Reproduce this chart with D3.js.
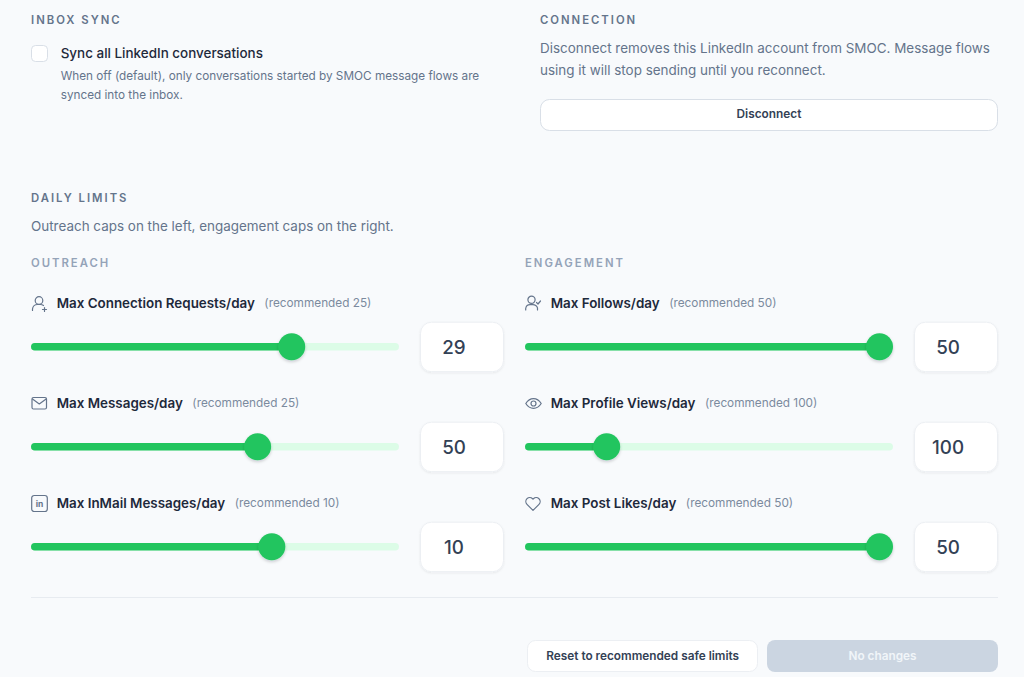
<!DOCTYPE html>
<html>
<head>
<meta charset="utf-8">
<script src="https://cdn.jsdelivr.net/npm/d3@7"></script>
<style>
  html, body { margin: 0; padding: 0; background: #f8fafc; overflow: hidden; }
  text { font-family: Inter, "Noto Sans", sans-serif; }
</style>
</head>
<body>
<div id="chart"></div>
<script>
// values
const outreachLabels = ["Max Connection Requests/day", "Max Messages/day", "Max InMail Messages/day"];
const outreachRecommended = [25, 25, 10];
const outreachValues = [29, 50, 10];
const outreachMax = [40, 80, 15];
const outreachIcons = ["userPlus", "mail", "linkedin"];

const engagementLabels = ["Max Follows/day", "Max Profile Views/day", "Max Post Likes/day"];
const engagementRecommended = [50, 100, 50];
const engagementValues = [50, 100, 50];
const engagementMax = [50, 500, 50];
const engagementIcons = ["userCheck", "eye", "heart"];

const width = 1024;
const height = 677;

const svg = d3.select("#chart")
  .append("svg")
  .attr("width", width)
  .attr("height", height)
  .style("display", "block");

const defs = svg.append("defs");
const thumbShadow = defs.append("filter").attr("id", "thumbShadow")
  .attr("x", "-40%").attr("y", "-40%").attr("width", "180%").attr("height", "180%");
thumbShadow.append("feDropShadow").attr("dx", 0).attr("dy", 1.5).attr("stdDeviation", 1.5)
  .attr("flood-color", "#0f172a").attr("flood-opacity", 0.2);
const boxShadow = defs.append("filter").attr("id", "boxShadow")
  .attr("x", "-10%").attr("y", "-10%").attr("width", "120%").attr("height", "130%");
boxShadow.append("feDropShadow").attr("dx", 0).attr("dy", 1).attr("stdDeviation", 1)
  .attr("flood-color", "#0f172a").attr("flood-opacity", 0.07);

function addText(x, y, str, size, weight, fill, spacing) {
  return svg.append("text")
    .attr("x", x)
    .attr("y", y)
    .attr("font-size", size)
    .attr("font-weight", weight)
    .attr("fill", fill)
    .attr("letter-spacing", spacing || 0)
    .text(str);
}

function addBox(x, y, w, h, r, fill, stroke, shadow) {
  const box = svg.append("rect")
    .attr("x", x)
    .attr("y", y)
    .attr("width", w)
    .attr("height", h)
    .attr("rx", r)
    .attr("fill", fill);
  if (stroke) box.attr("stroke", stroke).attr("stroke-width", 1);
  if (shadow) box.attr("filter", "url(#boxShadow)");
  return box;
}

// top sections
addText(31, 24, "INBOX SYNC", 11.3, 600, "#64748b", 2);
addBox(31.5, 45.5, 16, 16, 4, "#ffffff", "#d9dfe7");
addText(60.7, 58, "Sync all LinkedIn conversations", 13.45, 500, "#1e293b");
addText(60.7, 80, "When off (default), only conversations started by SMOC message flows are", 11.75, 400, "#64748b");
addText(60.7, 99, "synced into the inbox.", 11.75, 400, "#64748b");

addText(540, 24, "CONNECTION", 11.3, 600, "#64748b", 2);
addText(540, 53, "Disconnect removes this LinkedIn account from SMOC. Message flows", 13.45, 400, "#64748b");
addText(540, 75, "using it will stop sending until you reconnect.", 13.45, 400, "#64748b");
addBox(540.5, 99.5, 457, 31, 9, "#ffffff", "#d9dfe7");
addText(769, 118, "Disconnect", 11.85, 600, "#334155").attr("text-anchor", "middle");

addText(31, 202, "DAILY LIMITS", 11.3, 600, "#64748b", 2);
addText(31, 231, "Outreach caps on the left, engagement caps on the right.", 13.45, 400, "#64748b");

const icons = {
  userPlus: (g) => {
    g.append("circle").attr("cx", 8).attr("cy", 5.5).attr("r", 3.8);
    g.append("path").attr("d", "M1.5 15.5v-1.5a5 5 0 0 1 5-4.5h3a5 5 0 0 1 3 1");
    g.append("path").attr("d", "M13.5 12.5v4M11.5 14.5h4");
  },
  mail: (g) => {
    g.append("rect").attr("x", 1).attr("y", 2.5).attr("width", 14.5).attr("height", 11.5).attr("rx", 1.5);
    g.append("path").attr("d", "M1.5 4l6.8 5 6.8-5");
  },
  linkedin: (g) => {
    g.append("rect").attr("x", 0.7).attr("y", 0.5).attr("width", 15.6).attr("height", 16).attr("rx", 2.5);
    g.append("text").attr("x", 8.5).attr("y", 11.5).attr("text-anchor", "middle")
      .attr("font-size", 8.5).attr("font-weight", 700).attr("fill", "#64748b").attr("stroke", "none").text("in");
  },
  userCheck: (g) => {
    g.append("circle").attr("cx", 6.5).attr("cy", 4.8).attr("r", 3.6);
    g.append("path").attr("d", "M0.7 15v-1.5a4.5 4.5 0 0 1 4.5-3.8h2.6a5 5 0 0 1 4.7 3.2v2");
    g.append("path").attr("d", "M11.5 7.5l1.5 1.5 2.5-3");
  },
  eye: (g) => {
    g.append("path").attr("d", "M0.8 8.5c4-6.5 11.4-6.5 15.4 0c-4 6.5-11.4 6.5-15.4 0z");
    g.append("circle").attr("cx", 8.5).attr("cy", 8.5).attr("r", 2.5);
  },
  heart: (g) => {
    g.append("path").attr("d", "M8 15.3L2 9.3a4 4 0 0 1 0-5.6a4 4 0 0 1 5.6 0l0.4 0.5l0.4-0.5a4 4 0 0 1 5.6 0a4 4 0 0 1 0 5.6z");
  },
};

// one column of sliders, handle centres come from the scale
function drawColumn(cfg) {
  addText(cfg.x, 267, cfg.title, 11.3, 600, "#94a3b8", 2);

  const rowY = d3.scalePoint().domain(d3.range(cfg.labels.length)).range([346.7, 546.7]);

  cfg.labels.forEach((label, i) => {
    const y = rowY(i);
    const xScale = d3.scaleLinear()
      .domain([0, cfg.max[i]])
      .range([cfg.x + 13.5, cfg.x + 368 - 13.5]);
    const thumbX = xScale(cfg.values[i]);

    const iconG = svg.append("g")
      .attr("transform", `translate(${cfg.x},${y - 51.7})`)
      .attr("fill", "none")
      .attr("stroke", "#64748b")
      .attr("stroke-width", 1.2)
      .attr("stroke-linecap", "round")
      .attr("stroke-linejoin", "round");
    icons[cfg.icons[i]](iconG);

    const labelText = addText(cfg.x + 25.7, y - 38.7, label, 13.4, 600, "#1e293b");
    const labelW = labelText.node().getComputedTextLength();
    addText(cfg.x + 25.7 + labelW + 9.5, y - 40.2, `(recommended ${cfg.recommended[i]})`, 11.8, 400, "#7b8a9e");

    svg.append("rect")
      .attr("x", cfg.x).attr("y", y - 3.8)
      .attr("width", 368).attr("height", 7.6).attr("rx", 3.8)
      .attr("fill", "#dcfce7");
    svg.append("rect")
      .attr("x", cfg.x).attr("y", y - 3.8)
      .attr("width", thumbX - cfg.x).attr("height", 7.6).attr("rx", 3.8)
      .attr("fill", "#22c55e");
    svg.append("circle")
      .attr("cx", thumbX).attr("cy", y).attr("r", 13.5)
      .attr("fill", "#22c55e")
      .attr("filter", "url(#thumbShadow)");

    addBox(cfg.x + 389.5, y - 24.5, 83, 49.5, 11, "#ffffff", "#eceff3", true);
    addText(cfg.x + 423, y + 6.8, cfg.values[i], 18.8, 500, "#334155").attr("text-anchor", "middle");
  });
}

drawColumn({
  x: 31,
  title: "OUTREACH",
  labels: outreachLabels,
  recommended: outreachRecommended,
  values: outreachValues,
  max: outreachMax,
  icons: outreachIcons,
});

drawColumn({
  x: 525,
  title: "ENGAGEMENT",
  labels: engagementLabels,
  recommended: engagementRecommended,
  values: engagementValues,
  max: engagementMax,
  icons: engagementIcons,
});

// footer
svg.append("line")
  .attr("x1", 31).attr("x2", 998)
  .attr("y1", 597.5).attr("y2", 597.5)
  .attr("stroke", "#e7ebf0");

addBox(527.5, 640.5, 230, 31, 8, "#ffffff", "#eceff3");
addText(642.7, 660, "Reset to recommended safe limits", 11.8, 600, "#334155").attr("text-anchor", "middle");
addBox(767, 640, 231, 32, 8, "#cbd5e1");
addText(882.5, 660, "No changes", 11.8, 600, "#f1f5f9").attr("text-anchor", "middle");
</script>
</body>
</html>
